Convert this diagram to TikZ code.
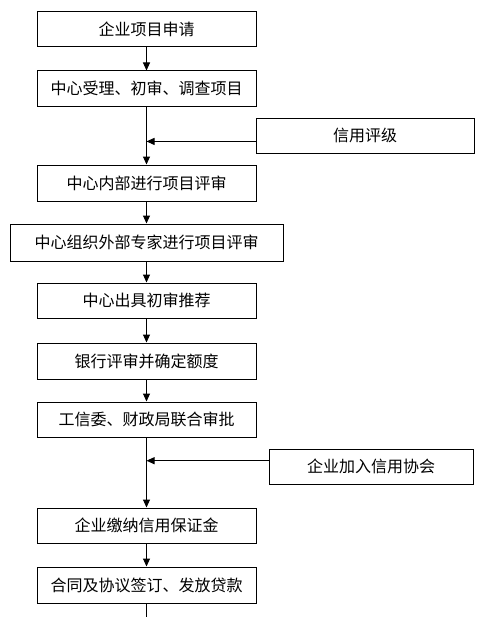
\documentclass[tikz,border=0pt]{standalone}
\usepackage{fontspec}
\setmainfont{Noto Sans CJK SC}
\usetikzlibrary{arrows.meta}

\tikzset{every picture/.style={line width=0.75pt}}
\tikzset{
  stepbox/.style={draw, inner sep=0pt, minimum width=164.25pt, minimum height=26.25pt,
    font=\fontsize{12pt}{14pt}\selectfont},
  flow/.style={-{Triangle[length=6pt,width=5.25pt]}},
}

\begin{document}
\begin{tikzpicture}[x=0.75pt,y=0.75pt,yscale=-1,xscale=1]
%set diagram left start at 0, and has height of 617
\fill[white] (0,0) rectangle (488,617);
\path[use as bounding box] (0,0) rectangle (488,617);

%Shape: Rectangle [main column]
\node[stepbox] (apply) at (146.5,29.5) {企业项目申请};
\node[stepbox] (accept) at (146.5,88.5) {中心受理、初审、调查项目};
\node[stepbox, minimum height=27pt] (inner) at (146.5,183) {中心内部进行项目评审};
\node[stepbox, minimum width=204.75pt, minimum height=27.75pt] (expert) at (146.5,242.5) {中心组织外部专家进行项目评审};
\node[stepbox] (recommend) at (146.5,300.5) {中心出具初审推荐};
\node[stepbox, minimum height=27pt] (bank) at (146.5,361) {银行评审并确定额度};
\node[stepbox] (approve) at (146.5,419.5) {工信委、财政局联合审批};
\node[stepbox] (deposit) at (146.5,525.5) {企业缴纳信用保证金};
\node[stepbox, minimum height=27pt] (loan) at (146.5,585) {合同及协议签订、发放贷款};
\coordinate (tail) at (146.5,617);

%Shape: Rectangle [side boxes]
\node[stepbox, minimum width=163.5pt] (credit) at (365,135.7) {信用评级};
\node[stepbox, minimum width=153pt] (join) at (371,466.7) {企业加入信用协会};

%Straight Lines [main flow]
\draw[flow] (apply) -- (accept);
\draw[flow] (accept) -- (inner);
\draw[flow] (inner) -- (expert);
\draw[flow] (expert) -- (recommend);
\draw[flow] (recommend) -- (bank);
\draw[flow] (bank) -- (approve);
\draw[flow] (approve) -- (deposit);
\draw[flow] (deposit) -- (loan);
\draw (loan) -- (tail);

%Straight Lines [side flow]
\draw[flow] ([yshift=4.3pt]credit.west) -- ([yshift=4.3pt]credit.west -| accept.south);
\draw[flow] ([yshift=-4.5pt]join.west) -- ([yshift=-4.5pt]join.west -| approve.south);

\end{tikzpicture}
\end{document}
